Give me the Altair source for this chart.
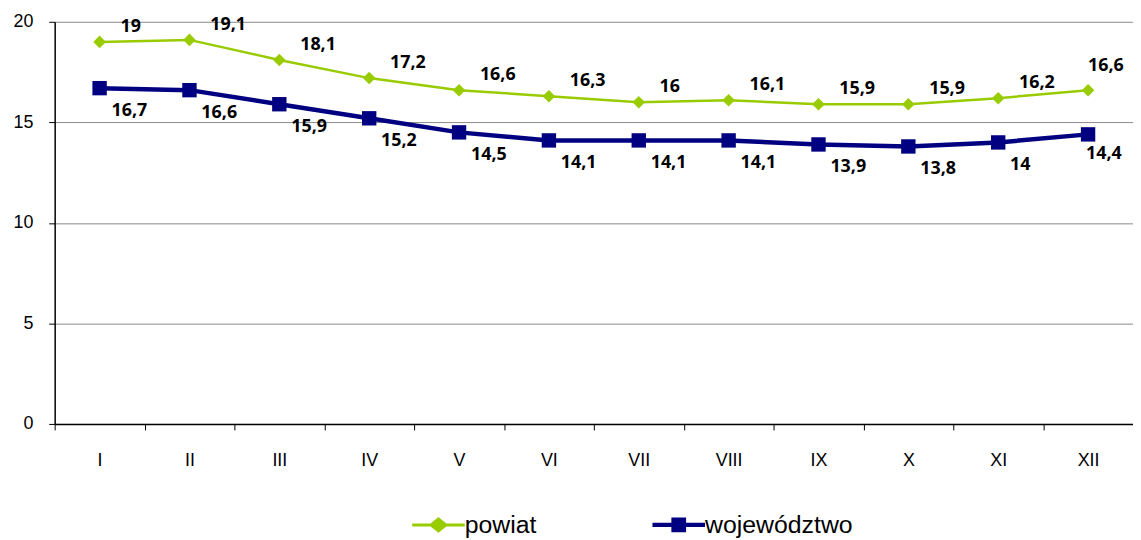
import altair as alt
import pandas as pd

months = ["I", "II", "III", "IV", "V", "VI", "VII", "VIII", "IX", "X", "XI", "XII"]
powiat = [19, 19.1, 18.1, 17.2, 16.6, 16.3, 16, 16.1, 15.9, 15.9, 16.2, 16.6]
wojewodztwo = [16.7, 16.6, 15.9, 15.2, 14.5, 14.1, 14.1, 14.1, 13.9, 13.8, 14, 14.4]
series_names = ["powiat", "województwo"]
series_colors = ["#99CC00", "#000080"]

rows = []
for m, p, w in zip(months, powiat, wojewodztwo):
    rows.append({"month": m, "series": "powiat", "value": p})
    rows.append({"month": m, "series": "województwo", "value": w})
df = pd.DataFrame(rows)

x_enc = alt.X("month:N", sort=months, scale=alt.Scale(paddingInner=0, paddingOuter=0),
              axis=alt.Axis(title=None, tickBand="extent", labelAngle=0, labelFontSize=18,
                            labelFont="Liberation Sans", labelColor="black", labelPadding=22,
                            tickSize=6, tickColor="black", domainColor="black", domainWidth=1.5,
                            grid=False))
y_enc = alt.Y("value:Q", scale=alt.Scale(domain=[0, 20], nice=False),
              axis=alt.Axis(title=None, values=[0, 5, 10, 15, 20], labelFontSize=18,
                            labelFont="Liberation Sans", labelColor="black", labelPadding=16,
                            tickSize=6, tickColor="black", domainColor="black", domainWidth=1.5,
                            gridColor="#8a8a8a", gridWidth=1))
color_scale = alt.Scale(domain=series_names, range=series_colors)

base = alt.Chart(df).encode(x=x_enc, y=y_enc)
is_p = "datum.series == 'powiat'"
is_w = "datum.series == 'województwo'"

line_p = base.transform_filter(is_p).mark_line(color=series_colors[0], strokeWidth=2.5)
line_w = base.transform_filter(is_w).mark_line(color=series_colors[1], strokeWidth=4.5)
pts_p = base.transform_filter(is_p).mark_point(
    shape="diamond", filled=True, size=160, opacity=1, color=series_colors[0])
pts_w = base.transform_filter(is_w).mark_point(
    shape="square", filled=True, size=210, opacity=1, color=series_colors[1])

lab_expr = "replace(format(datum.value, '.1~f'), '.', ',')"
txt = dict(font="Open Sans", fontWeight="bold", fontSize=18, color="black", baseline="middle")


def labels(cond, **kw):
    return base.transform_filter(cond).transform_calculate(lab=lab_expr).mark_text(
        **txt, **kw).encode(text="lab:N")


lab_p = labels(is_p + " && datum.month != 'XII'", align="left", dx=21, dy=-15)
lab_w = labels(is_w + " && datum.month != 'XII'", align="left", dx=12, dy=23)
lab_p_end = labels(is_p + " && datum.month == 'XII'", align="center", dx=18, dy=-24)
lab_w_end = labels(is_w + " && datum.month == 'XII'", align="center", dx=16, dy=20)

path_p = "M-1,-0.055H-0.3L0,-0.3L0.3,-0.055H1V0.055H0.3L0,0.3L-0.3,0.055H-1Z"
path_w = "M-1,-0.08H-0.28V-0.28H0.28V-0.08H1V0.08H0.28V0.28H-0.28V0.08H-1Z"

leg = dict(title=None, orient="none", legendX=360, legendY=480, direction="horizontal",
           symbolSize=2800, symbolStrokeWidth=0, labelFontSize=25,
           labelFont="Liberation Sans", labelColor="black", labelOffset=0, columnPadding=116)

legend_layer = base.transform_filter("datum.value < 0").mark_point(
    filled=True, opacity=1).encode(
    color=alt.Color("series:N", scale=color_scale, legend=alt.Legend(**leg)),
    shape=alt.Shape("series:N", scale=alt.Scale(domain=series_names, range=[path_p, path_w]),
                    legend=alt.Legend(**leg)),
)

chart = alt.layer(line_p, line_w, pts_p, pts_w, lab_p, lab_w, lab_p_end, lab_w_end,
                  legend_layer).properties(
    width=1086, height=405,
    autosize=alt.AutoSizeParams(type="none"),
    padding={"left": 47, "top": 12, "right": 0, "bottom": 115},
).configure_view(stroke=None)

chart.save("out.html", embed_options={"renderer": "svg", "actions": False})
